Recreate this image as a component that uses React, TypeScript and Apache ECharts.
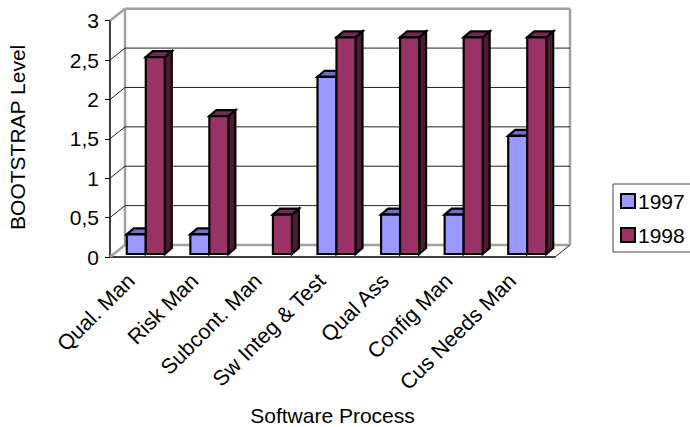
import React, { useEffect, useRef } from "react";
import * as echarts from "echarts";

const categories = ["Qual. Man", "Risk Man", "Subcont. Man", "Sw Integ & Test", "Qual Ass", "Config Man", "Cus Needs Man"];
const values1997 = [0.25, 0.25, 0, 2.25, 0.5, 0.5, 1.5];
const values1998 = [2.5, 1.75, 0.5, 2.75, 2.75, 2.75, 2.75];
const levelTicks = [0, 0.5, 1, 1.5, 2, 2.5, 3];

const FONT = "'Liberation Sans', Arial, sans-serif";
const FONT_SIZE = 21;
const WALL_DX = 15;
const WALL_DY = 12;
const BAR_WIDTH = 19;
const BAR_DX = 7;
const BAR_DY = 6;
const BAR_SHIFT_X = 4;
const BAR_SHIFT_Y = 3;

const palette = {
  1997: { front: "#9999ff", top: "#6f6fc4", side: "#4d4d80" },
  1998: { front: "#993366", top: "#7a2952", side: "#4d1933" },
};

// Back wall, floor and the receding grid lines of the pseudo-3D box.
function renderFrame(params: any, api: any) {
  const v = api.value(1);
  const sys = params.coordSys;
  const y = api.coord([0, v])[1];
  const left = sys.x;
  const right = sys.x + sys.width;
  const wallGray = "#a0a0a0";
  const children: any[] = [];
  const line = (x1: number, y1: number, x2: number, y2: number, stroke: string, lineWidth: number) => ({
    type: "line",
    shape: { x1, y1, x2, y2 },
    style: { stroke, lineWidth, fill: "none" },
  });
  if (v === levelTicks[0]) {
    children.push(line(left + WALL_DX, y - WALL_DY, right + WALL_DX, y - WALL_DY, wallGray, 2.5));
    children.push(line(left, y, left + WALL_DX, y - WALL_DY, wallGray, 2.5));
    children.push(line(right, y, right + WALL_DX, y - WALL_DY, "#222", 1));
    children.push(line(left + WALL_DX, y - WALL_DY, left + WALL_DX, sys.y - WALL_DY, wallGray, 2.5));
    children.push(line(right + WALL_DX, y - WALL_DY, right + WALL_DX, sys.y - WALL_DY, wallGray, 2.5));
  } else if (v === levelTicks[levelTicks.length - 1]) {
    children.push(line(left + WALL_DX, y - WALL_DY, right + WALL_DX, y - WALL_DY, wallGray, 2.5));
    children.push(line(left, y, left + WALL_DX, y - WALL_DY, wallGray, 2.5));
  } else {
    children.push(line(left + WALL_DX, y - WALL_DY, right + WALL_DX, y - WALL_DY, "#222", 1));
    children.push(line(left, y, left + WALL_DX, y - WALL_DY, "#222", 1));
  }
  return { type: "group", children };
}

// One extruded column: front face, top face and right side face.
function makeBarRenderer(year: 1997 | 1998, side: -1 | 1) {
  const colors = palette[year];
  return (_params: any, api: any) => {
    const cat = api.value(0);
    const v = api.value(1);
    if (!v) return { type: "group", children: [] };
    const topPt = api.coord([cat, v]);
    const basePt = api.coord([cat, 0]);
    const cx = topPt[0] + BAR_SHIFT_X;
    const x0 = side < 0 ? cx - BAR_WIDTH : cx;
    const x1 = x0 + BAR_WIDTH;
    const yTop = topPt[1] - BAR_SHIFT_Y;
    const yBase = basePt[1] - BAR_SHIFT_Y;
    const stroke = { stroke: "#000", lineWidth: 2.2, lineJoin: "miter" };
    return {
      type: "group",
      children: [
        {
          type: "polygon",
          shape: { points: [[x1, yTop], [x1 + BAR_DX, yTop - BAR_DY], [x1 + BAR_DX, yBase - BAR_DY], [x1, yBase]] },
          style: { fill: colors.side, ...stroke },
        },
        {
          type: "polygon",
          shape: { points: [[x0, yTop], [x0 + BAR_DX, yTop - BAR_DY], [x1 + BAR_DX, yTop - BAR_DY], [x1, yTop]] },
          style: { fill: colors.top, ...stroke },
        },
        {
          type: "rect",
          shape: { x: x0, y: yTop, width: BAR_WIDTH, height: yBase - yTop },
          style: { fill: colors.front, ...stroke },
        },
      ],
    };
  };
}

export default function App() {
  const ref = useRef<HTMLDivElement>(null);

  useEffect(() => {
    document.body.style.margin = "0";
    const chart = echarts.init(ref.current!, undefined, { renderer: "svg" });
    const textStyle = { fontFamily: FONT, fontSize: FONT_SIZE, color: "#000" };
    chart.setOption({
      animation: false,
      backgroundColor: "#fff",
      textStyle,
      grid: { left: 110, top: 20.7, width: 445, height: 236.3, outerBoundsMode: "none" },
      legend: {
        left: 613,
        top: 184,
        orient: "vertical",
        data: ["1997", "1998"],
        icon: "rect",
        itemWidth: 14,
        itemHeight: 14,
        itemGap: 13,
        padding: [6.5, 20, 6.5, 7],
        borderColor: "#444",
        borderWidth: 1,
        itemStyle: { borderColor: "#000", borderWidth: 2 },
        textStyle: { ...textStyle, padding: [0, 0, 0, -2] },
      },
      xAxis: {
        type: "category",
        data: categories,
        name: "Software Process",
        nameLocation: "middle",
        nameGap: 148,
        nameTextStyle: textStyle,
        axisLine: { lineStyle: { color: "#000", width: 1.5 } },
        axisTick: { alignWithLabel: false, length: 6, lineStyle: { color: "#000", width: 1 } },
        axisLabel: { ...textStyle, fontSize: 21.5, rotate: 45, margin: 31, interval: 0, verticalAlign: "bottom", padding: [0, 0, 4, 0] },
        splitLine: { show: false },
      },
      yAxis: {
        type: "value",
        min: 0,
        max: 3,
        interval: 0.5,
        name: "BOOTSTRAP Level",
        nameLocation: "middle",
        nameGap: 82,
        nameTextStyle: { ...textStyle, padding: [0, 0, 0, 3] },
        axisLine: { show: true, lineStyle: { color: "#000", width: 1.5 } },
        axisTick: { show: true, length: 5, lineStyle: { color: "#000", width: 1 } },
        axisLabel: {
          ...textStyle,
          margin: 11,
          formatter: (v: number) => String(v).replace(".", ","),
        },
        splitLine: { show: false },
      },
      series: [
        {
          type: "custom",
          name: "frame",
          z: 1,
          silent: true,
          renderItem: renderFrame,
          data: levelTicks.map((v) => [0, v]),
          encode: { x: 0, y: 1 },
        },
        {
          type: "custom",
          name: "1997",
          z: 3,
          itemStyle: { color: palette[1997].front },
          renderItem: makeBarRenderer(1997, -1),
          data: values1997.map((v, i) => [i, v]),
          encode: { x: 0, y: 1 },
        },
        {
          type: "custom",
          name: "1998",
          z: 4,
          itemStyle: { color: palette[1998].front },
          renderItem: makeBarRenderer(1998, 1),
          data: values1998.map((v, i) => [i, v]),
          encode: { x: 0, y: 1 },
        },
      ],
    });
    return () => chart.dispose();
  }, []);

  return <div ref={ref} style={{ position: "fixed", left: 0, top: 0, width: 690, height: 427, overflow: "hidden" }} />;
}
